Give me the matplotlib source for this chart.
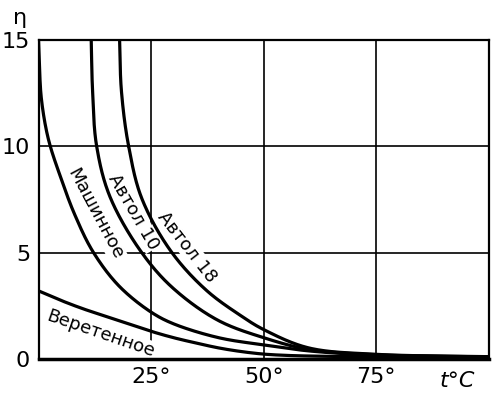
import numpy as np
import matplotlib.pyplot as plt

plt.rcParams["font.family"] = ["Liberation Sans Narrow", "DejaVu Sans"]

# temperature (deg C) and viscosity readings for each oil
t_veret = [0, 5, 10, 15, 20, 25, 30, 35, 40, 45, 50, 55, 60, 75, 100]
eta_veret = [3.2, 2.75, 2.35, 2.0, 1.65, 1.3, 1.0, 0.75, 0.52, 0.35, 0.23, 0.17, 0.14, 0.1, 0.06]

t_mash = [0, 0.25, 0.6, 1.5, 2.6, 4.8, 8, 12.2, 18, 25, 30, 40, 50, 60, 75, 100]
eta_mash = [15, 13.5, 12.3, 11, 10, 8.6, 6.8, 5, 3.4, 2.2, 1.65, 1.0, 0.66, 0.38, 0.18, 0.09]

t_avt10 = [11.7, 12.0, 12.9, 15.9, 22.9, 30, 40, 50, 60, 75, 100]
eta_avt10 = [15, 12.6, 10, 7.6, 5, 3.3, 1.8, 1.0, 0.45, 0.2, 0.1]

t_avt18 = [18.0, 18.4, 20.0, 23.0, 29.6, 37.4, 44.8, 50, 60, 75, 100]
eta_avt18 = [15, 12.6, 10, 7.5, 5, 3.2, 2.05, 1.38, 0.52, 0.22, 0.11]

x_ticks = [25, 50, 75]
x_labels = ["25°", "50°", "75°"]
y_ticks = [0, 5, 10, 15]


def smooth(xs, ys, n=40):
    # centripetal catmull-rom through the read points, in axis-scaled space
    p = np.column_stack([np.asarray(xs) / 100.0, np.asarray(ys) / 15.0])
    p = np.vstack([2 * p[0] - p[1], p, 2 * p[-1] - p[-2]])
    out = []
    for i in range(1, len(p) - 2):
        p0, p1, p2, p3 = p[i - 1], p[i], p[i + 1], p[i + 2]
        t0 = 0.0
        t1 = t0 + np.linalg.norm(p1 - p0) ** 0.5
        t2 = t1 + np.linalg.norm(p2 - p1) ** 0.5
        t3 = t2 + np.linalg.norm(p3 - p2) ** 0.5
        t = np.linspace(t1, t2, n)[:, None]
        a1 = (t1 - t) / (t1 - t0) * p0 + (t - t0) / (t1 - t0) * p1
        a2 = (t2 - t) / (t2 - t1) * p1 + (t - t1) / (t2 - t1) * p2
        a3 = (t3 - t) / (t3 - t2) * p2 + (t - t2) / (t3 - t2) * p3
        b1 = (t2 - t) / (t2 - t0) * a1 + (t - t0) / (t2 - t0) * a2
        b2 = (t3 - t) / (t3 - t1) * a2 + (t - t1) / (t3 - t1) * a3
        c = (t2 - t) / (t2 - t1) * b1 + (t - t1) / (t2 - t1) * b2
        out.append(c)
    c = np.vstack(out)
    return c[:, 0] * 100.0, c[:, 1] * 15.0


fig = plt.figure(figsize=(5.0, 3.97), dpi=100)
ax = fig.add_axes([0.077, 0.0957, 0.901, 0.8048])

for x in x_ticks:
    ax.axvline(x, color="black", lw=1.2, zorder=1)
for y in [5, 10]:
    ax.axhline(y, color="black", lw=1.2, zorder=1)

for t, eta in [(t_veret, eta_veret), (t_mash, eta_mash),
               (t_avt10, eta_avt10), (t_avt18, eta_avt18)]:
    sx, sy = smooth(t, eta)
    ax.plot(sx, sy, color="black", lw=2.3, zorder=3, solid_capstyle="butt")

box = dict(facecolor="white", edgecolor="none", pad=0.5)
ax.text(12.6, 6.8, "Машинное", rotation=-62, fontsize=13, ha="center",
        va="center", bbox=box, zorder=2)
ax.text(21.0, 6.9, "Автол 10", rotation=-60, fontsize=13, ha="center",
        va="center", bbox=box, zorder=2)
ax.text(33.0, 5.25, "Автол 18", rotation=-52, fontsize=13, ha="center",
        va="center", bbox=box, zorder=2)
ax.text(13.9, 1.2, "Веретенное", rotation=-19, fontsize=13, ha="center",
        va="center", bbox=box, zorder=2)

ax.set_xlim(0, 100)
ax.set_ylim(0, 15)
ax.set_xticks(x_ticks)
ax.set_xticklabels(x_labels)
ax.set_yticks(y_ticks)
ax.tick_params(length=0, labelsize=16, pad=6)
for side in ["left", "bottom", "top", "right"]:
    ax.spines[side].set_linewidth(1.6)
ax.spines["bottom"].set_linewidth(2.5)

ax.text(93, -0.55, "t°C", fontsize=16, style="italic", ha="center", va="top")
fig.text(0.04, 0.955, "η", fontsize=16, ha="center", va="center")

fig.savefig("out.png", dpi=100)
